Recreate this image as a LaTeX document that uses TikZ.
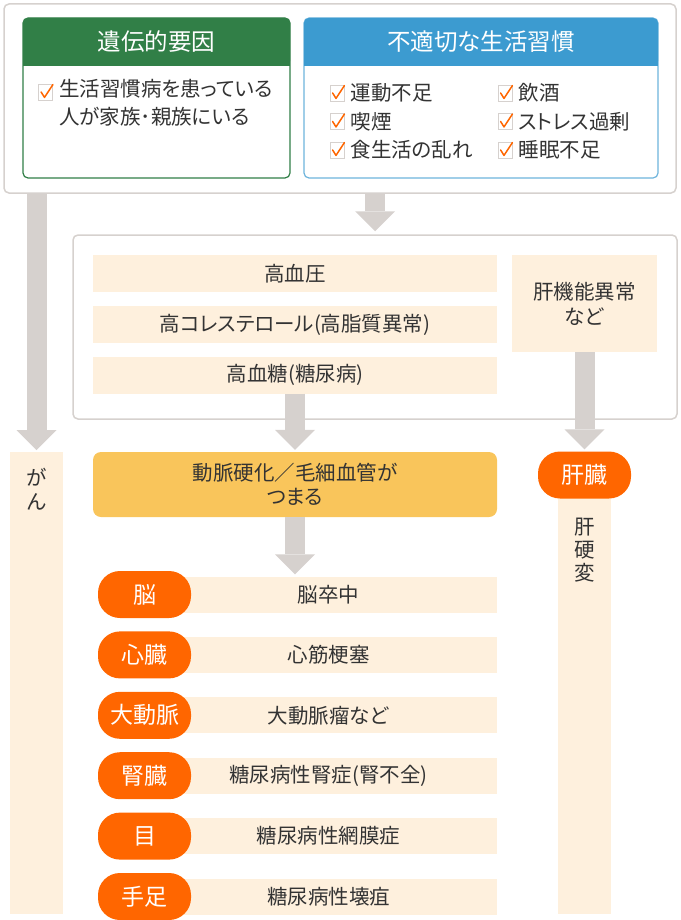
\documentclass[tikz,border=0pt]{standalone}
\usepackage{fontspec}
\setmainfont[RawFeature=+palt]{Noto Sans CJK JP}
\usepackage{tikz}
\usetikzlibrary{positioning, calc, arrows.meta}
\definecolor{ldGreen}{RGB}{49, 127, 71}
\definecolor{ldBlue}{RGB}{60, 155, 208}
\definecolor{ldBlueLine}{RGB}{110, 180, 220}
\definecolor{ldOrange}{RGB}{255, 102, 0}
\definecolor{ldYellow}{RGB}{249, 197, 91}
\definecolor{ldCream}{RGB}{254, 240, 221}
\definecolor{ldFrame}{RGB}{214, 209, 206}
\definecolor{ldText}{RGB}{51, 51, 51}
\tikzset{
    base/.style={
        font=\fontsize{20.5}{28}\selectfont,
        text=ldText,
        align=center,
        inner sep=0pt
    },
    frame/.style={
        rectangle,
        rounded corners=5pt,
        draw=ldFrame,
        line width=1.5pt,
        fill=white
    },
    panel/.style={
        rectangle,
        rounded corners=5pt,
        line width=1.2pt,
        fill=white
    },
    header/.style={
        base,
        font=\fontsize{23.5}{28}\selectfont,
        text=white,
        rectangle,
        rounded corners=5pt,
        minimum height=48pt
    },
    item/.style={
        base,
        align=left
    },
    tick/.style={
        rectangle,
        draw=ldFrame,
        fill=white,
        line width=0.8pt,
        minimum width=14pt,
        minimum height=16pt,
        inner sep=0pt
    },
    checkmark/.style={
        draw=ldOrange,
        line width=1.5pt,
        line cap=round,
        line join=round
    },
    bar/.style={
        base,
        rectangle,
        fill=ldCream,
        minimum height=37pt
    },
    pill/.style={
        base,
        font=\fontsize{23}{28}\selectfont,
        text=white,
        rectangle,
        rounded corners=22pt,
        fill=ldOrange,
        minimum width=93pt,
        minimum height=47pt
    },
    column/.style={
        rectangle,
        fill=ldCream,
        anchor=north,
        minimum width=53pt
    },
    flow/.style={
        draw=ldFrame,
        line width=20pt,
        -{Triangle[length=20pt, width=40pt, line width=0pt]}
    }
}

\begin{document}
\begin{tikzpicture}[x=1pt, y=-1pt]
  \useasboundingbox (0,0) rectangle (680,920);

  % causes
  \node[frame, minimum width=672pt, minimum height=189pt] (causes) at (340,98.5) {};
  \node[panel, draw=ldGreen, minimum width=267pt, minimum height=160pt] (genetic) at (156.5,98) {};
  \fill[ldGreen] (23,42) rectangle (290,66);
  \node[header, fill=ldGreen, minimum width=267pt] (genhead) at (156.5,42) {遺伝的要因};
  \node[panel, draw=ldBlueLine, minimum width=354pt, minimum height=160pt] (lifestyle) at (481,98) {};
  \fill[ldBlue] (304,42) rectangle (658,66);
  \node[header, fill=ldBlue, minimum width=354pt] (lifehead) at (481,42) {不適切な生活習慣};

  \node[tick] (g1) at (45.5,92) {};
  \node[item, anchor=north west] (genitem) at (59,79.5) {生活習慣病を患っている\\人が家族･親族にいる};
  \foreach \txt/\x/\y [count=\i] in {運動不足/337/93, 喫煙/337/121.5, 食生活の乱れ/337/150,
                                     飲酒/505/93, ストレス過剰/505/121.5, 睡眠不足/505/150} {
    \node[tick] (b\i) at (\x,\y) {};
    \node[item, right=6pt of b\i] (bt\i) {\txt};
  }
  \foreach \c in {g1, b1, b2, b3, b4, b5, b6}
    \draw[checkmark] ($(\c.west)+(3,0)$) -- ($(\c.south)+(-1,-3)$) -- ($(\c.north east)+(0,1)$);

  % risk factors
  \node[frame, minimum width=604pt, minimum height=184pt] (factors) at (375,327) {};
  \node[bar, minimum width=404pt] (pressure) at (295,273.5) {高血圧};
  \node[bar, minimum width=404pt] (lipid) at (295,324.5) {高コレステロール(高脂質異常)};
  \node[bar, minimum width=404pt] (sugar) at (295,375) {高血糖(糖尿病)};
  \node[bar, minimum width=145pt, minimum height=97pt, font=\fontsize{20.5}{25}\selectfont] (liverfn) at (584.5,303.5) {肝機能異常\\など};

  % results
  \node[column, minimum height=462pt] (cancer) at (36.5,452) {};
  \node[base, font=\fontsize{20.5}{24}\selectfont] (cancertxt) at (36.5,489) {が\\ん};
  \node[bar, fill=ldYellow, rounded corners=8pt, minimum width=404pt, minimum height=65pt, font=\fontsize{20.5}{24}\selectfont] (sclerosis) at (295,484.5) {動脈硬化／毛細血管が\\つまる};
  \node[column, minimum height=430pt] (cirrhosis) at (584.5,484) {};
  \node[base, font=\fontsize{20.5}{23}\selectfont] (cirrhosistxt) at (584.5,550.5) {肝\\硬\\変};
  \node[pill] (liver) at (584.5,475) {肝臓};

  \foreach \organ/\disease [count=\i] in {脳/脳卒中, 心臓/心筋梗塞, 大動脈/大動脈瘤など,
                                          腎臓/糖尿病性腎症(腎不全), 目/糖尿病性網膜症, 手足/糖尿病性壊疽} {
    \node[bar, minimum width=337pt, minimum height=36pt] (d\i) at (328.5,{594.5+60.4*(\i-1)}) {\disease};
    \node[pill] (o\i) at (144.5,{594.5+60.4*(\i-1)}) {\organ};
  }

  \draw[flow] (causes.south -| cancer.north) -- ([yshift=2pt]cancer.north);
  \draw[flow] (causes.south -| factors.north) -- ([yshift=3pt]factors.north);
  \draw[flow] (sugar.south) -- ([yshift=2pt]sclerosis.north);
  \draw[flow] (liverfn.south) -- ([yshift=2pt]liver.north);
  \draw[flow] (sclerosis.south) -- ([yshift=2pt]sclerosis.south |- d1.north);
\end{tikzpicture}
\end{document}
